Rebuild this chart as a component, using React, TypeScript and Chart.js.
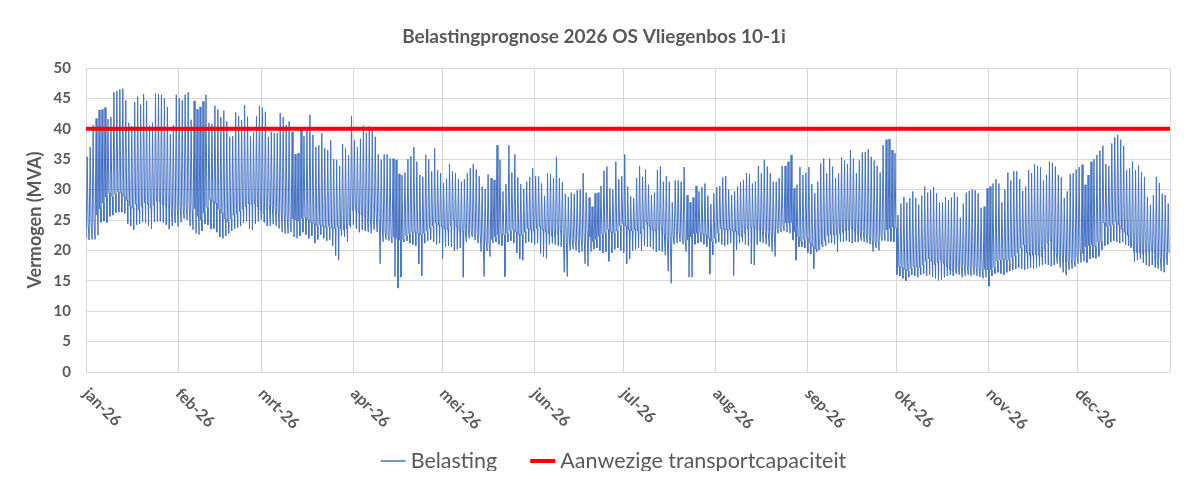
import React, { useEffect, useRef } from "react";
import { Chart, registerables } from "chart.js";

Chart.register(...registerables);

const chartTitle = "Belastingprognose 2026 OS Vliegenbos 10-1i";
const yAxisTitle = "Vermogen (MVA)";
const loadLabel = "Belasting";
const capacityLabel = "Aanwezige transportcapaciteit";

const monthLabels = ["jan-26", "feb-26", "mrt-26", "apr-26", "mei-26", "jun-26", "jul-26", "aug-26", "sep-26", "okt-26", "nov-26", "dec-26"];
const monthStarts = [0, 31, 59, 90, 120, 151, 181, 212, 243, 273, 304, 334, 365];

const capacity = 40;

// daily peak load (MVA), 1 jan .. 31 dec 2026
const dailyMax = [
  35.4, 37.0, 40.6, 41.7, 43.1, 43.2, 43.5, 41.6, 41.9, 46.0, 46.2, 46.5, 46.6, 44.7, 41.0, 40.4, 44.4, 45.3, 44.0, 45.7, 44.6, 40.5, 41.0, 45.8, 45.7, 45.6, 45.0, 43.6, 39.1, 40.6,
  45.6, 45.0, 44.7, 45.6, 46.0, 41.5, 44.6, 43.2, 43.6, 44.5, 45.6, 41.0, 40.8, 43.8, 43.2, 41.9, 43.0, 41.2, 38.7, 38.8, 42.7, 42.1, 41.4, 43.9, 42.0, 38.8, 39.4, 42.1, 43.8, 43.5, 42.8, 38.7, 39.5, 39.3,
  39.3, 42.6, 41.9, 40.6, 41.2, 39.5, 35.8, 36.0, 39.8, 38.8, 39.8, 42.3, 39.0, 37.0, 37.3, 39.3, 36.8, 36.5, 38.1, 35.0, 34.9, 33.9, 37.5, 36.8, 35.7, 42.1, 38.1, 37.0, 38.4, 40.5, 39.4, 40.4, 39.8,
  38.7, 35.8, 34.9, 35.8, 35.8, 35.1, 35.1, 34.9, 32.6, 32.4, 32.8, 35.0, 35.5, 37.0, 34.6, 32.4, 32.1, 35.7, 35.0, 33.0, 36.8, 33.2, 32.7, 31.1, 31.8, 34.2, 33.0, 32.7, 31.7, 31.3, 31.7, 32.7, 33.5, 34.2,
  33.3, 32.2, 30.5, 30.1, 32.5, 31.9, 31.6, 37.3, 34.9, 29.7, 30.9, 37.3, 32.8, 35.8, 32.0, 30.9, 30.1, 31.3, 32.1, 33.5, 32.2, 32.2, 31.0, 29.0, 32.7, 32.6, 31.9, 35.4, 31.9, 31.2, 29.3, 28.8, 29.5, 29.3,
  29.9, 30.0, 32.7, 29.5, 28.7, 27.2, 29.4, 29.5, 30.6, 33.1, 33.8, 30.2, 30.0, 34.6, 31.7, 32.2, 35.8, 30.5, 28.9, 28.6, 31.9, 33.9, 32.1, 33.3, 30.8, 29.1, 29.5, 33.2, 33.8, 31.3, 32.2, 31.3, 27.9,
  31.5, 31.5, 31.3, 33.7, 29.1, 27.9, 28.7, 30.6, 29.7, 30.4, 31.0, 29.0, 27.6, 29.4, 30.4, 30.6, 32.0, 32.2, 30.0, 29.1, 29.7, 30.5, 31.2, 31.6, 32.7, 32.6, 31.0, 31.3, 33.9, 32.7, 34.9, 33.8, 32.7, 31.3,
  31.3, 31.9, 33.9, 33.9, 34.6, 35.7, 30.2, 30.8, 33.7, 32.4, 32.8, 33.7, 30.9, 29.4, 31.3, 34.3, 35.1, 32.7, 35.1, 33.8, 31.9, 32.7, 35.3, 34.8, 34.2, 36.5, 35.1, 32.7, 34.8, 36.1, 36.2, 36.6, 35.4, 34.8,
  33.9, 32.8, 37.3, 38.2, 38.3, 36.5, 36.0, 25.8, 27.7, 28.8, 27.9, 28.6, 29.7, 28.6, 27.5, 29.0, 30.5, 29.5, 29.9, 30.4, 29.4, 27.9, 27.9, 28.8, 28.3, 28.7, 29.5, 28.8, 25.4, 27.7, 29.5, 29.8, 30.0,
  29.9, 29.4, 27.0, 27.2, 30.2, 30.5, 31.0, 31.7, 31.0, 27.9, 30.0, 32.8, 31.5, 33.0, 33.0, 31.7, 29.8, 30.5, 33.2, 32.7, 34.2, 33.9, 33.7, 31.5, 32.4, 34.6, 34.4, 33.8, 32.4, 32.0, 28.6, 29.7, 32.6, 32.7,
  33.3, 33.7, 34.1, 30.8, 32.4, 34.6, 35.0, 35.7, 36.4, 37.2, 34.2, 33.9, 37.6, 38.6, 39.0, 38.2, 37.2, 33.2, 33.5, 34.6, 33.2, 34.0, 32.9, 32.1, 28.8, 27.5, 29.1, 32.1, 31.1, 29.3, 29.1, 27.7,
];

// daily minimum load (MVA)
const dailyMin = [
  22.0, 21.7, 21.8, 21.8, 22.5, 24.6, 24.8, 24.6, 25.6, 25.8, 26.2, 26.3, 26.3, 26.1, 24.4, 24.0, 23.4, 24.2, 24.4, 24.7, 24.6, 24.0, 23.6, 24.7, 24.8, 24.8, 24.6, 24.2, 23.5, 24.0,
  24.5, 23.9, 24.6, 25.2, 25.0, 24.0, 23.4, 22.8, 22.6, 23.2, 24.4, 24.2, 23.5, 23.6, 23.0, 22.2, 22.0, 22.4, 22.8, 23.2, 23.6, 23.8, 24.0, 24.6, 24.8, 23.6, 23.4, 24.4, 24.8, 25.0, 24.6, 24.0, 24.0, 24.3,
  24.0, 23.6, 23.0, 22.8, 22.8, 23.0, 22.2, 22.0, 22.4, 23.0, 22.6, 22.0, 22.4, 21.2, 21.8, 22.6, 22.0, 21.6, 21.8, 20.8, 19.2, 18.4, 22.4, 22.2, 21.5, 23.8, 24.2, 23.6, 23.0, 23.4, 23.2, 23.0, 22.8,
  23.4, 23.0, 17.8, 21.4, 21.8, 21.6, 21.2, 15.7, 13.8, 15.6, 21.4, 21.6, 21.2, 21.0, 20.8, 17.8, 15.8, 21.2, 21.6, 21.8, 21.4, 21.0, 21.2, 18.6, 20.6, 20.8, 20.6, 20.0, 20.2, 20.4, 15.6, 21.4, 22.0, 22.2,
  21.7, 21.2, 19.8, 15.7, 19.9, 19.0, 21.2, 21.4, 21.0, 20.8, 15.7, 21.4, 21.6, 21.2, 19.6, 18.6, 18.4, 21.2, 21.4, 21.3, 21.0, 21.2, 19.5, 19.0, 18.7, 21.0, 21.2, 21.0, 20.8, 20.6, 16.4, 15.7, 20.0, 20.2,
  20.0, 19.6, 19.8, 17.8, 17.4, 19.8, 20.2, 20.4, 20.0, 19.6, 19.8, 18.2, 19.6, 20.2, 20.4, 20.0, 19.6, 17.8, 18.6, 20.0, 20.2, 20.4, 20.0, 20.8, 20.6, 20.6, 20.2, 19.8, 20.0, 19.8, 19.2, 16.6, 14.6,
  21.0, 21.2, 21.4, 21.0, 19.8, 15.6, 15.6, 21.0, 21.2, 21.4, 21.0, 20.6, 16.1, 19.3, 21.2, 21.4, 21.0, 20.8, 21.0, 21.2, 15.9, 20.1, 21.2, 21.4, 21.0, 20.8, 17.8, 17.6, 21.0, 21.4, 21.2, 21.0, 20.6, 19.8,
  19.0, 22.8, 23.0, 23.2, 23.0, 22.8, 21.7, 18.4, 20.6, 20.6, 20.4, 19.6, 19.4, 17.0, 19.8, 20.6, 20.6, 20.8, 21.2, 21.2, 21.0, 19.8, 21.4, 21.4, 21.6, 21.4, 21.2, 21.4, 21.4, 21.6, 21.4, 21.2, 21.0, 19.8,
  20.4, 20.0, 21.6, 21.6, 21.5, 21.5, 21.4, 16.0, 15.8, 15.4, 15.0, 15.6, 16.0, 15.8, 15.6, 16.0, 16.2, 15.8, 16.0, 15.6, 15.4, 15.1, 15.2, 15.6, 15.8, 16.0, 15.8, 16.2, 16.0, 15.6, 15.8, 16.0, 15.8,
  16.0, 15.8, 15.6, 15.4, 15.6, 14.1, 15.8, 16.2, 16.4, 16.2, 16.0, 16.4, 16.6, 16.8, 17.0, 17.2, 17.0, 16.8, 17.0, 17.2, 17.0, 17.2, 17.4, 17.6, 17.8, 17.6, 17.4, 17.6, 17.8, 17.2, 16.4, 15.9, 16.8, 17.0,
  17.3, 17.8, 18.0, 18.2, 18.0, 18.6, 18.8, 18.7, 19.0, 20.1, 20.8, 21.0, 21.4, 21.6, 21.4, 21.2, 21.4, 21.0, 20.8, 20.6, 18.2, 18.4, 18.6, 18.0, 17.6, 17.4, 17.6, 17.2, 17.0, 16.6, 16.4, 17.6,
];

// evening plateau load (MVA)
const dailyEvening = [
  24.4, 24.6, 24.8, 25.8, 26.8, 27.8, 28.8, 29.4, 28.8, 29.2, 29.6, 29.4, 28.9, 28.2, 27.3, 27.0, 27.6, 26.8, 27.2, 27.9, 27.6, 27.0, 27.4, 28.2, 28.0, 27.6, 27.4, 27.0, 26.6, 26.5,
  27.0, 27.2, 27.0, 27.4, 27.7, 27.2, 26.9, 25.6, 25.0, 26.2, 27.0, 28.3, 28.0, 27.7, 26.8, 26.1, 25.2, 24.7, 25.2, 25.8, 26.0, 26.4, 26.8, 27.2, 27.7, 27.6, 27.7, 27.2, 26.6, 26.1, 26.8, 27.7, 27.4, 27.0,
  26.8, 26.6, 26.4, 26.0, 25.6, 25.2, 25.0, 24.8, 25.2, 25.4, 25.0, 24.6, 24.4, 24.0, 24.2, 24.0, 23.8, 24.0, 23.8, 23.6, 23.8, 23.6, 23.4, 23.6, 24.2, 26.6, 26.7, 26.2, 25.8, 25.6, 25.4, 25.5, 25.2,
  26.0, 25.6, 24.2, 23.0, 22.6, 22.4, 22.2, 22.0, 21.7, 21.8, 22.4, 22.8, 23.0, 23.0, 22.8, 22.5, 22.8, 23.2, 23.6, 24.0, 24.5, 24.2, 23.9, 23.6, 23.4, 24.2, 25.0, 24.0, 23.1, 23.2, 23.4, 23.6, 23.2, 22.8,
  22.8, 22.8, 22.4, 21.7, 21.4, 21.8, 22.2, 22.5, 22.6, 22.5, 22.8, 23.2, 23.4, 23.0, 22.6, 22.5, 23.0, 23.6, 23.4, 23.2, 23.6, 23.9, 23.4, 23.1, 22.8, 22.4, 22.3, 22.6, 23.1, 23.0, 22.5, 22.2, 21.8, 21.7,
  22.0, 22.2, 23.0, 23.6, 22.2, 21.4, 21.8, 22.3, 22.6, 22.8, 23.4, 23.0, 22.8, 23.2, 24.0, 24.5, 24.0, 23.4, 23.2, 23.4, 23.2, 22.8, 23.6, 24.5, 24.0, 23.4, 23.2, 23.4, 23.4, 23.0, 22.3, 22.4, 22.5,
  23.9, 23.1, 22.6, 22.0, 21.7, 22.2, 22.8, 22.8, 22.8, 22.6, 22.5, 22.0, 21.4, 22.0, 22.8, 23.6, 23.5, 23.4, 23.4, 23.2, 23.1, 22.6, 22.3, 22.8, 23.6, 23.8, 23.9, 23.6, 23.4, 23.2, 23.1, 23.1, 23.1, 23.2,
  23.6, 23.8, 24.2, 24.5, 24.5, 24.6, 23.1, 22.2, 21.4, 21.8, 22.0, 21.2, 20.6, 20.2, 20.1, 20.9, 21.6, 22.5, 22.6, 22.6, 22.6, 22.8, 23.0, 23.2, 23.4, 23.6, 23.2, 22.8, 23.0, 23.1, 22.8, 22.5, 22.0, 21.4,
  21.6, 22.4, 23.2, 23.4, 23.6, 23.8, 23.6, 17.2, 17.1, 16.8, 16.6, 17.0, 17.3, 17.3, 17.2, 17.6, 18.2, 18.7, 18.2, 17.7, 18.0, 18.4, 17.8, 17.4, 16.9, 16.6, 16.8, 17.0, 17.4, 17.7, 17.6, 17.5, 17.4,
  17.3, 17.2, 17.0, 16.9, 16.8, 16.8, 17.2, 18.2, 18.4, 18.5, 18.4, 18.4, 18.8, 19.0, 19.6, 20.4, 20.9, 19.6, 19.2, 19.2, 19.3, 19.2, 19.0, 20.2, 21.2, 21.6, 20.1, 19.6, 19.4, 19.6, 19.9, 18.4, 18.7, 18.7,
  19.0, 20.3, 19.5, 20.6, 20.8, 20.9, 20.6, 21.4, 21.4, 24.5, 23.9, 24.0, 24.2, 24.7, 24.2, 23.5, 23.0, 22.5, 20.5, 19.8, 19.7, 19.6, 19.5, 19.6, 19.8, 20.1, 19.6, 18.5, 19.0, 19.5, 19.8, 19.6,
];

const FONT = "Lato, 'Open Sans', sans-serif";
const TEXT = "#595959";
const BLUE = "#4472C4";
const RED = "#FF0000";
const GRID = "#D9D9D9";

function buildLoadPoints() {
  const pts: { x: number; y: number }[] = [];
  for (let d = 0; d < dailyMax.length; d++) {
    pts.push({ x: d + 0.05, y: dailyMin[d] });
    pts.push({ x: d + 0.4, y: dailyMax[d] });
    pts.push({ x: d + 0.7, y: dailyEvening[d] });
    pts.push({ x: d + 0.95, y: dailyEvening[d] });
  }
  return pts;
}

const overlayPlugin = {
  id: "overlay",
  afterDraw(chart: any) {
    const { ctx, chartArea } = chart;
    const xs = chart.scales.x;
    ctx.save();
    // rotated month labels
    ctx.font = `bold 16px ${FONT}`;
    ctx.fillStyle = TEXT;
    ctx.textAlign = "left";
    ctx.textBaseline = "middle";
    monthLabels.forEach((lab, i) => {
      const px = xs.getPixelForValue(monthStarts[i]);
      ctx.save();
      ctx.translate(px, chartArea.bottom + 19);
      ctx.rotate(Math.PI / 4);
      ctx.fillText(lab, 0, 0);
      ctx.restore();
    });
    // legend
    ctx.font = `21.5px ${FONT}`;
    const sample = 25;
    const gap = 5;
    const itemGap = 33;
    const w1 = ctx.measureText(loadLabel).width;
    const w2 = ctx.measureText(capacityLabel).width;
    const total = sample + gap + w1 + itemGap + sample + gap + w2;
    let x0 = 605.5 - total / 2;
    const ly = 453;
    ctx.lineCap = "butt";
    ctx.strokeStyle = BLUE;
    ctx.lineWidth = 1.5;
    ctx.beginPath();
    ctx.moveTo(x0, ly);
    ctx.lineTo(x0 + sample, ly);
    ctx.stroke();
    ctx.fillStyle = TEXT;
    ctx.fillText(loadLabel, x0 + sample + gap, ly);
    x0 += sample + gap + w1 + itemGap;
    ctx.strokeStyle = RED;
    ctx.lineWidth = 4;
    ctx.beginPath();
    ctx.moveTo(x0, ly);
    ctx.lineTo(x0 + sample, ly);
    ctx.stroke();
    ctx.fillText(capacityLabel, x0 + sample + gap, ly);
    ctx.restore();
  },
};

export default function App() {
  const canvasRef = useRef<HTMLCanvasElement | null>(null);

  useEffect(() => {
    if (!canvasRef.current) return;
    const chart = new Chart(canvasRef.current, {
      type: "line",
      data: {
        datasets: [
          {
            label: loadLabel,
            data: buildLoadPoints(),
            borderColor: BLUE,
            borderWidth: 1,
            pointRadius: 0,
            tension: 0,
            order: 1,
          },
          {
            label: capacityLabel,
            data: [
              { x: monthStarts[0], y: capacity },
              { x: monthStarts[monthStarts.length - 1], y: capacity },
            ],
            borderColor: RED,
            borderWidth: 4,
            pointRadius: 0,
            order: 0,
          },
        ],
      },
      options: {
        responsive: false,
        animation: false,
        layout: { padding: { top: 8, left: 10, right: 22, bottom: 0 } },
        plugins: {
          legend: { display: false },
          tooltip: { enabled: false },
          title: {
            display: true,
            text: chartTitle,
            color: TEXT,
            font: { family: FONT, size: 19, weight: "bold" },
            padding: { top: 9.6, bottom: 19.6 },
          },
        },
        scales: {
          x: {
            type: "linear",
            min: 0,
            max: 365,
            afterBuildTicks: (scale: any) => {
              scale.ticks = monthStarts.map((v) => ({ value: v }));
            },
            afterFit: (scale: any) => {
              scale.height = 99;
            },
            ticks: { callback: () => "", display: true },
            grid: { color: GRID, drawTicks: false },
            border: { display: false },
          },
          y: {
            min: 0,
            max: 50,
            afterFit: (scale: any) => {
              scale.width = 68;
            },
            ticks: {
              stepSize: 5,
              padding: 15,
              color: TEXT,
              font: { family: FONT, size: 15, weight: "bold" },
            },
            grid: { color: GRID, drawTicks: false },
            border: { display: false },
            title: {
              display: true,
              text: yAxisTitle,
              color: TEXT,
              font: { family: FONT, size: 18, weight: "bold" },
              padding: { top: 6, bottom: 0 },
            },
          },
        },
      },
      plugins: [overlayPlugin],
    });
    return () => chart.destroy();
  }, []);

  return (
    <div style={{ width: 1184, height: 463, marginLeft: -1, borderLeft: "1px solid #D9D9D9" }}>
      <canvas ref={canvasRef} width={1184} height={463} style={{ display: "block" }} />
    </div>
  );
}
